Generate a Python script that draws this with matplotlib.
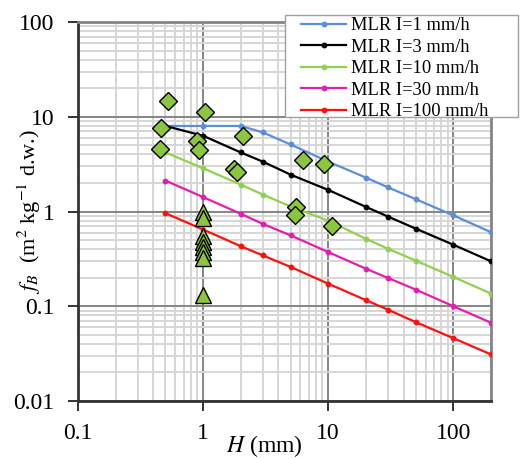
import matplotlib
matplotlib.use("Agg")
import matplotlib.pyplot as plt
from matplotlib.patches import Rectangle, Shadow
from matplotlib.ticker import LogLocator, FixedLocator, NullFormatter

plt.rcParams['font.family'] = ['Liberation Serif', 'DejaVu Serif']
plt.rcParams['mathtext.fontset'] = 'stix'

# model curves (MLR) for several rainfall intensities
H = [0.5, 1, 2, 3, 5, 10, 20, 30, 50, 100, 200]
fb_I1 = [8.0, 8.0, 8.0, 6.84, 5.1, 3.36, 2.28, 1.80, 1.35, 0.91, 0.605]
fb_I3 = [8.0, 6.3, 4.2, 3.36, 2.45, 1.69, 1.12, 0.885, 0.66, 0.446, 0.298]
fb_I10 = [4.2, 2.86, 1.92, 1.51, 1.13, 0.80, 0.515, 0.405, 0.303, 0.204, 0.136]
fb_I30 = [2.12, 1.42, 0.945, 0.74, 0.56, 0.373, 0.249, 0.199, 0.15, 0.10, 0.067]
fb_I100 = [0.96, 0.645, 0.43, 0.344, 0.26, 0.173, 0.116, 0.092, 0.068, 0.046, 0.031]

labels = ['MLR I=1 mm/h', 'MLR I=3 mm/h', 'MLR I=10 mm/h', 'MLR I=30 mm/h', 'MLR I=100 mm/h']
colors = ['#5b8fd6', '#000000', '#92d050', '#e020b0', '#ff1010']

# observations
diam_H = [0.52, 1.03, 0.46, 0.45, 0.90, 0.92, 2.08, 1.77, 1.86, 6.23, 9.3, 5.55, 5.38, 10.8]
diam_fb = [14.5, 11.3, 7.6, 4.57, 5.5, 4.5, 6.2, 2.81, 2.59, 3.53, 3.18, 1.11, 0.91, 0.70]
tri_H = [1, 1, 1, 1, 1, 1, 1, 1]
tri_fb = [1.0, 0.85, 0.55, 0.48, 0.42, 0.37, 0.32, 0.132]

fig = plt.figure(figsize=(5.21, 4.59), dpi=100)
ax = fig.add_axes([0.1497, 0.1264, 0.7927, 0.8256])

series = [fb_I1, fb_I3, fb_I10, fb_I30, fb_I100]
for ys, lab, c in zip(series, labels, colors):
    ax.plot(H, ys, color=c, lw=1.6, marker='o', ms=3.2, label=lab, zorder=3)

ax.plot(diam_H, diam_fb, ls='none', marker='D', ms=9, mfc='#8cc63f', mec='black', mew=1.0, zorder=4)
ax.plot(tri_H, tri_fb, ls='none', marker='^', ms=12, mfc='#8cc63f', mec='black', mew=1.0, zorder=4)

ax.set_xscale('log')
ax.set_yscale('log')
ax.set_xlim(0.1, 200)
ax.set_ylim(0.01, 100)

ax.xaxis.set_major_locator(FixedLocator([0.1, 1, 10, 100]))
ax.yaxis.set_major_locator(FixedLocator([0.01, 0.1, 1, 10, 100]))
ax.set_xticklabels(['0.1', '1', '10', '100'])
ax.set_yticklabels(['0.01', '0.1', '1', '10', '100'])
ax.xaxis.set_minor_locator(LogLocator(base=10, subs=range(2, 10), numticks=20))
ax.yaxis.set_minor_locator(LogLocator(base=10, subs=range(2, 10), numticks=20))
ax.xaxis.set_minor_formatter(NullFormatter())
ax.yaxis.set_minor_formatter(NullFormatter())

ax.grid(which='minor', color='#d6d6d6', lw=1.4, zorder=0)
ax.grid(which='major', color='#858585', lw=1.4, zorder=1)
ax.set_axisbelow(True)

ax.tick_params(which='major', direction='out', length=7, width=1.4, color='#333333',
               labelsize=17, pad=10)
ax.tick_params(which='minor', length=0)
ax.tick_params(axis='x', pad=9)

for s in ['left', 'bottom']:
    ax.spines[s].set_color('#333333')
    ax.spines[s].set_linewidth(2)
for s in ['top', 'right']:
    ax.spines[s].set_color('#858585')
    ax.spines[s].set_linewidth(2)

ax.set_xlabel(r'$H$ (mm)', fontsize=17)
ax.xaxis.set_label_coords(0.45, -0.085)
ax.set_ylabel(r'$f_B$  (m$^2$ kg$^{-1}$ d.w.)', fontsize=16)
ax.yaxis.set_label_coords(-0.085, 0.5)

# legend box (Excel style: wide frame with a shadow)
box = Rectangle((0.547, 0.745), 0.447, 0.222, transform=fig.transFigure,
                facecolor='white', edgecolor='#a0a0a0', lw=1.0, zorder=9)
shadow = Shadow(box, 3, -3)
shadow.set_facecolor('#c0c0c0')
shadow.set_zorder(8)
fig.add_artist(shadow)
fig.add_artist(box)

leg = fig.legend(*ax.get_legend_handles_labels(), loc='upper left',
                 bbox_to_anchor=(0.578, 0.962), fontsize=13.3, frameon=False,
                 handlelength=2.45, labelspacing=0.24, borderpad=0,
                 handletextpad=0.25, borderaxespad=0)
leg.set_zorder(10)

fig.savefig('out.png', dpi=100)
